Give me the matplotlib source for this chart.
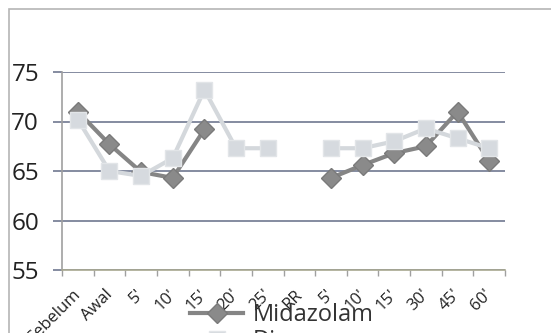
import numpy as np
import matplotlib
matplotlib.use("Agg")
import matplotlib.pyplot as plt
import matplotlib.transforms as mtransforms
from matplotlib.patches import Rectangle

categories = ["Sebelum", "Awal", "5'", "10'", "15'", "20'", "25'", "RR",
              "5'", "10'", "15'", "30'", "45'", "60'"]
midazolam = [71.0, 67.7, 64.9, 64.3, 69.2, np.nan, np.nan, np.nan,
             64.3, 65.6, 66.8, 67.5, 71.0, 66.0]
diazepam = [70.2, 65.0, 64.5, 66.3, 73.2, 67.3, 67.3, np.nan,
            67.3, 67.3, 68.0, 69.3, 68.3, 67.3]
yticks = [55, 60, 65, 70, 75]

plt.rcParams['font.family'] = ['Open Sans', 'DejaVu Sans']

fig = plt.figure(figsize=(5.51, 3.33), dpi=100)
ax = fig.add_axes([62/551, 1-270/333, (505-62)/551, (270-72)/333])

x = np.arange(len(categories))
grid_c = '#6f7890'
ax.plot(x, midazolam, color='#858585', lw=3, marker='D', markersize=10,
        markerfacecolor='#8a8a8a', markeredgecolor='#7a7a7a', label='Midazolam', zorder=3)
ax.plot(x, diazepam, color='#d4d8dc', lw=3, marker='s', markersize=12,
        markerfacecolor='#d6dadf', markeredgecolor='#e2e5e8', label='Diazepam', zorder=4)

ax.set_ylim(55, 75)
ax.set_xlim(-0.5, len(categories) - 0.5)
ax.set_yticks(yticks)
ax.yaxis.grid(True, color=grid_c, lw=1.2)
ax.set_axisbelow(True)
for s in ['top', 'right']:
    ax.spines[s].set_visible(False)
ax.spines['left'].set_color('#a0a0a0')
ax.spines['bottom'].set_color('#a8a890')
ax.spines['left'].set_linewidth(1.2)
ax.spines['bottom'].set_linewidth(1.2)
ax.tick_params(axis='y', length=6.5, width=1.2, color=grid_c, labelsize=17.5,
               labelcolor='#222222', pad=10)
ax.set_xticks(np.arange(len(categories) + 1) - 0.5)
ax.set_xticklabels([])
ax.tick_params(axis='x', which='major', length=4, width=1, color='#a0a0a0')
ax.set_xticks(x, minor=True)
ax.set_xticklabels(categories, minor=True, rotation=45, ha='right',
                   rotation_mode='anchor', fontsize=12, color='#222222')
ax.tick_params(axis='x', which='minor', length=0, pad=12)
offset = mtransforms.ScaledTranslation(-5/100, 0, fig.dpi_scale_trans)
for lbl in ax.get_xticklabels(minor=True):
    lbl.set_transform(lbl.get_transform() + offset)

fig.legend(loc='upper left', bbox_to_anchor=(190/551, 1-303/333), frameon=False,
           fontsize=17, handlelength=2.25, handletextpad=0.42, borderpad=0,
           borderaxespad=0, labelspacing=0.1, labelcolor='#333333')

fig.patches.append(Rectangle((9/551, -0.2), 1.0, 1-9/333+0.2, transform=fig.transFigure,
                             fill=False, edgecolor='#b5b5b5', lw=1.2))

fig.savefig('out.png', dpi=100)
